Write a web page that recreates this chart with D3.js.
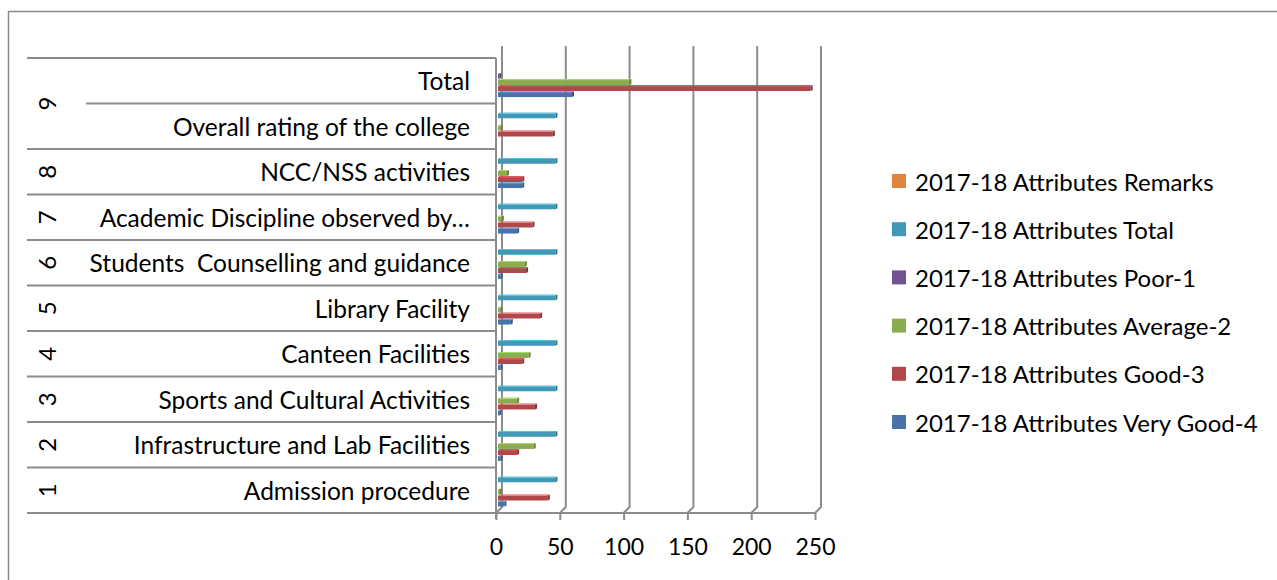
<!DOCTYPE html>
<html>
<head>
<meta charset="utf-8">
<script src="https://cdn.jsdelivr.net/npm/d3@7"></script>
<style>
  html, body { margin: 0; padding: 0; background: #fff; }
  svg { display: block; }
  text { font-family: Lato, "Open Sans", sans-serif; fill: #000; white-space: pre; }
</style>
</head>
<body>
<svg id="chart" width="1277" height="580"></svg>
<script>
// ---------------- data ----------------
const categories = [
  "Admission procedure",
  "Infrastructure and Lab Facilities",
  "Sports and Cultural Activities",
  "Canteen Facilities",
  "Library Facility",
  "Students  Counselling and guidance",
  "Academic Discipline observed by…",
  "NCC/NSS activities",
  "Overall rating of the college",
  "Total"
];
const groupLabels = ["1", "2", "3", "4", "5", "6", "7", "8", "9", "9"];

const seriesNames = [
  "2017-18 Attributes Very Good-4",
  "2017-18 Attributes Good-3",
  "2017-18 Attributes Average-2",
  "2017-18 Attributes Poor-1",
  "2017-18 Attributes Total",
  "2017-18 Attributes Remarks"
];
const veryGood4 = [5, 2, 1, 2, 10, 2, 15, 19, 0, 58];
const good3     = [39, 15, 29, 19, 33, 22, 27, 19, 43, 245];
const average2  = [1, 28, 15, 24, 2, 21, 3, 7, 2, 103];
const poor1     = [0, 0, 0, 0, 0, 0, 0, 0, 0, 1];
const totalCol  = [45, 45, 45, 45, 45, 45, 45, 45, 45, null];
const remarks   = [null, null, null, null, null, null, null, null, null, null];

const xTicks = [0, 50, 100, 150, 200, 250];
const seriesColors = ["#4674AA", "#B0474A", "#8AAB4E", "#6F5590", "#4299B5", "#E0843F"];

const seriesValues = [veryGood4, good3, average2, poor1, totalCol, remarks];

// ---------------- layout ----------------
const svg = d3.select("#chart");
const plotTop = 58, plotBottom = 513, axisX = 496;
const depth = 6;
const labelFont = 24.5;

// outer border
svg.append("rect")
  .attr("x", 8.5).attr("y", 11.5).attr("width", 1300).attr("height", 600)
  .attr("fill", "none").attr("stroke", "#8a8a8a").attr("stroke-width", 1.5);

// scales
const x = d3.scaleLinear().domain([0, 250]).range([496, 815]);          // front axis
const xBar = d3.scaleLinear().domain([0, 250]).range([498, 817]);       // bar face (mid depth)
const y = d3.scaleBand().domain(categories.slice().reverse()).range([plotTop, plotBottom]).padding(0);
const ySeries = d3.scaleBand().domain(seriesNames.slice().reverse())
  .range([0, y.bandwidth()]).paddingInner(0).paddingOuter(0.75);

// back wall gridlines
const grid = svg.append("g");
xTicks.forEach(t => {
  const xf = x(t);
  grid.append("path")
    .attr("d", `M${xf},${plotBottom} L${xf + depth},${plotBottom - depth} L${xf + depth},${plotTop - 12}`)
    .attr("fill", "none").attr("stroke", "#8c8c8c").attr("stroke-width", 2);
});
// left wall edge
svg.append("line").attr("x1", axisX).attr("x2", axisX).attr("y1", plotTop).attr("y2", plotBottom + 6)
  .attr("stroke", "#8c8c8c").attr("stroke-width", 2);

// value axis (front floor edge)
const axisG = svg.append("g").attr("transform", `translate(0,${plotBottom})`)
  .call(d3.axisBottom(x).tickValues(xTicks).tickSize(7).tickPadding(19).tickFormat(d3.format("d")));
axisG.select(".domain").attr("stroke", "#8c8c8c").attr("stroke-width", 2)
  .attr("d", `M${x(0)},0H${x(250)}`);
axisG.selectAll(".tick line").attr("stroke", "#8c8c8c").attr("stroke-width", 2);
axisG.selectAll(".tick text").attr("font-size", 23).attr("font-family", "Lato, sans-serif").attr("fill", "#000");

// bars
const barsG = svg.append("g");
seriesNames.forEach((name, si) => {
  const vals = seriesValues[si];
  const col = d3.color(seriesColors[si]);
  categories.forEach((cat, ci) => {
    const v = vals[ci];
    if (v === null || v === undefined || v <= 0) return;
    const y0 = y(cat) + ySeries(name) - 1.7;
    const h = ySeries.bandwidth() - 0.2;
    const x0 = xBar(0), x1 = xBar(v);
    const g = barsG.append("g");
    g.append("rect").attr("x", x0).attr("y", y0 + 1).attr("width", Math.max(0.5, x1 - x0)).attr("height", h - 1)
      .attr("fill", col.formatHex());
    g.append("path").attr("d", `M${x0},${y0 + 1} L${x0 + 1.5},${y0} L${x1 + 1.5},${y0} L${x1},${y0 + 1} Z`)
      .attr("fill", col.brighter(0.6).formatHex());
    g.append("path").attr("d", `M${x1},${y0 + 1} L${x1 + 2},${y0} L${x1 + 2},${y0 + h - 1} L${x1},${y0 + h} Z`)
      .attr("fill", col.darker(0.8).formatHex());
  });
});

// category labels + separator lines
const labG = svg.append("g");
categories.forEach((cat) => {
  const top = y(cat);
  const startX = (cat === "Overall rating of the college") ? 86 : 27;
  labG.append("line").attr("x1", startX).attr("x2", axisX).attr("y1", top).attr("y2", top)
    .attr("stroke", "#8c8c8c").attr("stroke-width", 2);
  labG.append("text")
    .attr("x", 470).attr("y", top + y.bandwidth() / 2)
    .attr("text-anchor", "end").attr("dominant-baseline", "central")
    .attr("font-size", labelFont).text(cat);
});
labG.append("line").attr("x1", 27).attr("x2", axisX).attr("y1", plotBottom).attr("y2", plotBottom)
  .attr("stroke", "#8c8c8c").attr("stroke-width", 2);

// group number labels (rotated)
const groups = Array.from(d3.group(categories.map((c, i) => ({c, g: groupLabels[i]})), d => d.g));
groups.forEach(([g, items]) => {
  const ys = items.map(d => y(d.c));
  const cy = (d3.min(ys) + d3.max(ys) + y.bandwidth()) / 2;
  labG.append("text")
    .attr("transform", `translate(46,${cy}) rotate(-90)`)
    .attr("text-anchor", "middle").attr("dominant-baseline", "central")
    .attr("font-size", 24).text(g);
});

// legend (reverse order: Remarks at top)
const legend = svg.append("g");
const legOrder = seriesNames.map((n, i) => ({n, c: seriesColors[i]})).reverse();
legOrder.forEach((d, i) => {
  const cy = 181 + i * 48.2;
  legend.append("rect").attr("x", 892).attr("y", cy - 7).attr("width", 14).attr("height", 14).attr("fill", d.c);
  legend.append("text").attr("x", 915).attr("y", cy).attr("dominant-baseline", "central")
    .attr("font-size", 24).text(d.n);
});
</script>
</body>
</html>
